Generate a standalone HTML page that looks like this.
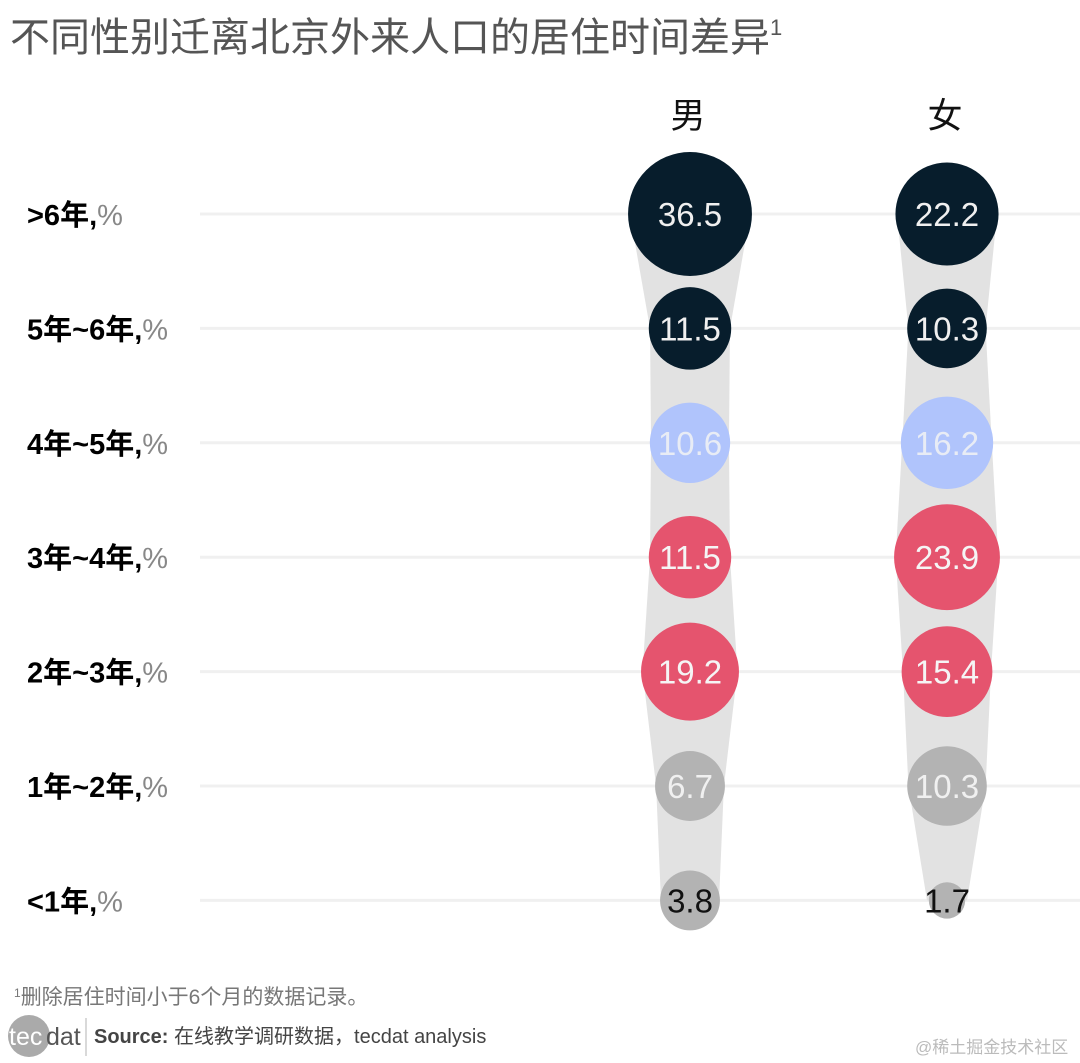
<!DOCTYPE html>
<html><head><meta charset="utf-8">
<style>
body{margin:0;background:#fff;width:1080px;height:1063px;overflow:hidden;font-family:"Liberation Sans","Noto Sans CJK SC",sans-serif;}
svg{position:absolute;left:0;top:0}
</style></head>
<body>
<svg id="chart" width="1080" height="1063">
<text x="10" y="51" font-size="40" fill="#555">不同性别迁离北京外来人口的居住时间差异<tspan font-size="22" dy="-16">1</tspan></text>
<text x="14" y="1004" font-size="21" fill="#777"><tspan font-size="12" dy="-7">1</tspan><tspan dy="7">删除居住时间小于6个月的数据记录。</tspan></text>
<g>
<circle cx="29" cy="1036" r="21" fill="#aaa"/>
<text x="9" y="1045" font-size="25" fill="#fff">tec</text>
<text x="46" y="1045" font-size="25" fill="#555">dat</text>
<line x1="86" y1="1018" x2="86" y2="1056" stroke="#ccc" stroke-width="1.5"/>
</g>
<text x="94" y="1043" font-size="20" fill="#444"><tspan font-weight="bold">Source:</tspan> 在线教学调研数据，tecdat analysis</text>
<text x="915" y="1053" font-size="17" fill="#bbb">@稀土掘金技术社区</text>
<g id="grid"></g><g id="bands"></g><g id="marks"></g>
</svg>
<script>
const categories = [">6年", "5年~6年", "4年~5年", "3年~4年", "2年~3年", "1年~2年", "<1年"];
const groups = ["男", "女"];
const maleValues = [36.5, 11.5, 10.6, 11.5, 19.2, 6.7, 3.8];
const femaleValues = [22.2, 10.3, 16.2, 23.9, 15.4, 10.3, 1.7];
const rowColors = ["#071d2c", "#071d2c", "#b0c4fc", "#e5546e", "#e5546e", "#b3b3b3", "#b3b3b3"];
const textColors = ["#f0f0f0", "#f0f0f0", "#e8ecf5", "#f5f5f5", "#f5f5f5", "#f0f0f0", "#111"];

const NS = "http://www.w3.org/2000/svg";
const yScale = i => 214 + i * 114.4;
const xScale = g => 690 + g * 257;
const rScale = v => v < 3 ? 8 + 6 * v : 14.7 + 7.82 * Math.sqrt(v);
function mk(tag, attrs, parent) {
  const e = document.createElementNS(NS, tag);
  for (const k in attrs) e.setAttribute(k, attrs[k]);
  parent.appendChild(e); return e;
}
const grid = document.getElementById("grid"), bands = document.getElementById("bands"), marks = document.getElementById("marks"), svg = document.getElementById("chart");

categories.forEach((c, i) => {
  const y = yScale(i);
  const l = mk("line", {x1: 200, x2: 1080, y1: y, y2: y, stroke: "#f0f0f0", "stroke-width": 3}, grid);
  
  
  const t = mk("text", {x: 27, y: y + 11, "font-size": 29, fill: "#000", "font-weight": "bold"}, svg);
  
  
  t.innerHTML = c.replace("<", "&lt;").replace(">", "&gt;") + ',<tspan font-weight="normal" fill="#888">%</tspan>';
});

[maleValues, femaleValues].forEach((vals, g) => {
  const cx = xScale(g);
  const h = mk("text", {x: cx - 2, y: 128, "font-size": 35, "text-anchor": "middle", fill: "#111"}, svg);
  
  
  h.textContent = groups[g];
  let left = [], right = [];
  vals.forEach((v, i) => {
    const w = Math.max(rScale(v) * 0.97, 20);
    left.push((cx - w) + "," + yScale(i));
    right.unshift((cx + w) + "," + yScale(i));
  });
  const p = mk("polygon", {points: left.concat(right).join(" "), fill: "#e2e2e2"}, bands);
  
  
  vals.forEach((v, i) => {
    const y = yScale(i);
    const c = mk("circle", {cx: cx, cy: y, r: rScale(v), fill: rowColors[i]}, marks);
    
    
    const t = mk("text", {x: cx, y: y + 12, "font-size": 33, "text-anchor": "middle", fill: textColors[i]}, marks);
    
    
    t.textContent = v.toFixed(1);
  });
});
</script>
</body></html>
